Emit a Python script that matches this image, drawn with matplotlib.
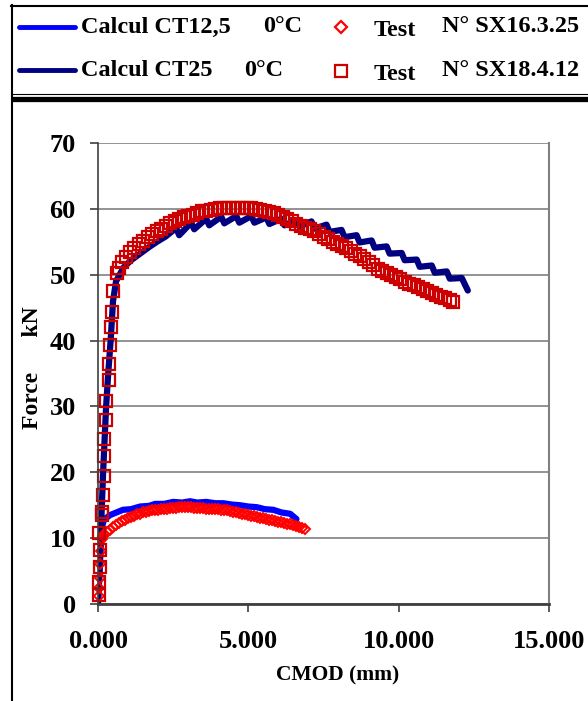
import numpy as np
import matplotlib.pyplot as plt
from matplotlib.ticker import FormatStrFormatter

plt.rcParams['font.family'] = ['Liberation Serif', 'DejaVu Serif']
plt.rcParams['font.weight'] = 'bold'

# Calcul CT25 0°C (navy line)
ct25_x = [0.0, 0.05, 0.10, 0.12, 0.17, 0.22, 0.27, 0.34, 0.42, 0.50, 0.60, 0.85, 1.10, 1.40,
          1.70, 1.96, 2.25, 2.60, 2.70, 3.10, 3.20, 3.60, 3.70, 4.10, 4.20, 4.60, 4.70, 5.10,
          5.20, 5.60, 5.70, 6.10, 6.20, 6.60, 6.70, 7.10, 7.20, 7.60, 7.70, 8.10, 8.20, 8.60,
          8.70, 9.10, 9.20, 9.60, 9.70, 10.10, 10.20, 10.60, 10.70, 11.10, 11.20, 11.60, 11.70,
          12.10, 12.30]
ct25_y = [0.0, 5.0, 11.0, 14.0, 20.0, 25.0, 30.0, 35.0, 40.0, 46.0, 49.0, 51.1, 52.2, 53.2,
          54.2, 55.0, 55.8, 57.1, 56.0, 57.9, 56.9, 58.5, 57.5, 58.8, 57.8, 58.9, 57.9, 58.9,
          57.9, 58.7, 57.7, 58.5, 57.5, 58.3, 57.3, 58.1, 57.0, 57.6, 56.5, 56.8, 55.7, 56.0,
          54.9, 55.2, 54.1, 54.3, 53.2, 53.3, 52.2, 52.3, 51.2, 51.4, 50.3, 50.5, 49.4,
          49.5, 47.6]

# Calcul CT12,5 0°C (blue line)
ct12_x = [0.0, 0.03, 0.06, 0.09, 0.12, 0.20, 0.40, 0.83, 1.10, 1.40, 1.70, 1.90, 2.20, 2.50,
          2.80, 3.06, 3.30, 3.60, 3.90, 4.17, 4.45, 4.72, 5.00, 5.28, 5.55, 5.83, 6.10, 6.39, 6.60]
ct12_y = [0.8, 3.0, 6.0, 9.0, 11.5, 12.8, 13.5, 14.3, 14.4, 14.8, 14.9, 15.2, 15.2, 15.5,
          15.4, 15.6, 15.4, 15.5, 15.3, 15.3, 15.1, 15.0, 14.8, 14.7, 14.4, 14.3, 13.9, 13.7, 12.9]

# Test N° SX16.3.25 (diamonds)
sx16_x = [0.02, 0.03, 0.05, 0.07, 0.09, 0.12, 0.15, 0.20, 0.30, 0.40, 0.50, 0.60, 0.70, 0.80,
          0.90, 1.00, 1.10, 1.20, 1.30, 1.40, 1.50, 1.60, 1.70, 1.80, 1.90, 2.00, 2.10, 2.20,
          2.30, 2.40, 2.50, 2.60, 2.70, 2.80, 2.90, 3.00, 3.10, 3.20, 3.30, 3.40, 3.50, 3.60,
          3.70, 3.80, 3.90, 4.00, 4.10, 4.20, 4.30, 4.40, 4.50, 4.60, 4.70, 4.80, 4.90, 5.00,
          5.10, 5.20, 5.30, 5.40, 5.50, 5.60, 5.70, 5.80, 5.90, 6.00, 6.10, 6.20, 6.30, 6.40,
          6.50, 6.60, 6.70, 6.80, 6.88]
sx16_y = [1.2, 2.5, 4.0, 6.0, 8.0, 9.8, 10.3, 10.6, 11.0, 11.3, 11.7, 12.0, 12.3, 12.6,
          12.8, 13.0, 13.2, 13.4, 13.6, 13.7, 13.9, 14.0, 14.1, 14.2, 14.3, 14.3, 14.4, 14.5,
          14.5, 14.6, 14.6, 14.6, 14.7, 14.7, 14.7, 14.7, 14.7, 14.6, 14.6, 14.6, 14.6, 14.5,
          14.5, 14.5, 14.4, 14.4, 14.3, 14.3, 14.2, 14.1, 14.0, 13.9, 13.8, 13.7, 13.6, 13.5,
          13.4, 13.3, 13.2, 13.1, 13.0, 12.9, 12.8, 12.7, 12.6, 12.5, 12.4, 12.3, 12.2, 12.1,
          12.0, 11.8, 11.7, 11.5, 11.4]

# Test N° SX18.4.12 (squares)
sx18_x = [0.02, 0.03, 0.05, 0.06, 0.04, 0.12, 0.12, 0.16, 0.20, 0.20, 0.20, 0.27, 0.27, 0.35,
          0.35, 0.40, 0.43, 0.45, 0.50, 0.62, 0.70, 0.80, 0.92, 1.06, 1.20, 1.35, 1.50, 1.65,
          1.80, 1.95, 2.10, 2.25, 2.40, 2.55, 2.70, 2.85, 3.00, 3.15, 3.30, 3.45, 3.60, 3.75,
          3.90, 4.05, 4.20, 4.35, 4.50, 4.65, 4.80, 4.95, 5.10, 5.25, 5.40, 5.55, 5.70, 5.85,
          6.00, 6.15, 6.30, 6.45, 6.60, 6.75, 6.90, 7.05, 7.20, 7.35, 7.50, 7.65, 7.80, 7.95,
          8.10, 8.25, 8.40, 8.55, 8.70, 8.85, 9.00, 9.15, 9.30, 9.45, 9.60, 9.75, 9.90, 10.05,
          10.20, 10.35, 10.50, 10.65, 10.80, 10.95, 11.10, 11.25, 11.40, 11.55, 11.70, 11.80]
sx18_y = [1.4, 3.3, 5.6, 8.2, 10.8, 13.5, 14.0, 16.6, 19.4, 22.4, 25.0, 28.0, 30.8, 34.0,
          36.5, 39.3, 42.0, 44.4, 47.6, 50.2, 51.0, 51.9, 52.7, 53.4, 54.0, 54.6, 55.1, 55.7,
          56.2, 56.6, 57.0, 57.4, 57.8, 58.1, 58.4, 58.7, 58.9, 59.1, 59.4, 59.6, 59.7, 59.9,
          60.0, 60.1, 60.2, 60.2, 60.2, 60.2, 60.2, 60.1, 60.1, 60.0, 59.8, 59.7, 59.5, 59.3,
          59.0, 58.7, 58.4, 58.1, 57.7, 57.4, 57.1, 56.9, 56.6, 56.2, 55.8, 55.4, 55.0, 54.6,
          54.3, 54.0, 53.6, 53.2, 52.8, 52.4, 51.9, 51.4, 50.9, 50.6, 50.3, 49.9, 49.6, 49.3,
          48.9, 48.6, 48.4, 48.1, 47.8, 47.5, 47.2, 46.9, 46.6, 46.4, 46.1, 45.9]

calc_labels = ['Calcul CT12,5', 'Calcul CT25']
calc_temps = ['0°C', '0°C']
test_labels = ['N° SX16.3.25', 'N° SX18.4.12']

blue = '#0000FF'
navy = '#000080'
red_d = '#FF0000'
red_s = '#CC0000'

fig = plt.figure(figsize=(5.88, 7.01), dpi=100)

# frame + legend drawn in pixel coordinates
bg = fig.add_axes([0, 0, 1, 1])
bg.set_xlim(0, 588)
bg.set_ylim(701, 0)
bg.axis('off')
bg.plot([11.5, 11.5], [5, 701], color='black', lw=1.5)
bg.plot([11, 588], [5.5, 5.5], color='black', lw=1.5)
bg.plot([11, 588], [94, 94], color='black', lw=0.8)
bg.plot([15, 588], [98.5, 98.5], color='black', lw=3.8)

bg.plot([19, 75], [27, 27], color=blue, lw=3.5, solid_capstyle='round')
bg.plot([19, 75], [70, 70], color=navy, lw=3.5, solid_capstyle='round')
bg.plot([341], [27], marker='D', ms=6, mfc='none', mec=red_d, mew=1.6)
bg.plot([341], [71], marker='s', ms=8, mfc='none', mec=red_s, mew=1.6)
txt = dict(fontsize=17.5, fontweight='bold', va='center', ha='left')
bg.text(81, 27, calc_labels[0], **txt)
bg.text(263, 27, calc_temps[0], **txt)
bg.text(81, 70, calc_labels[1], **txt)
bg.text(244, 70, calc_temps[1], **txt)
bg.text(374, 30, 'Test', **txt)
bg.text(374, 74, 'Test', **txt)
bg.text(442, 27, test_labels[0], **txt)
bg.text(442, 71, test_labels[1], **txt)

ax = fig.add_axes([98 / 588, 97 / 701, 451 / 588, 461 / 701])
ax.plot(ct12_x, ct12_y, color=blue, lw=4.5, solid_joinstyle='round', solid_capstyle='round')
ax.plot(ct25_x, ct25_y, color=navy, lw=4.5, solid_joinstyle='round', solid_capstyle='round')
ax.plot(sx16_x, sx16_y, ls='none', marker='D', ms=5.5, mfc='none', mec=red_d, mew=1.4,
        clip_on=False)
ax.plot(sx18_x, sx18_y, ls='none', marker='s', ms=8, mfc='none', mec=red_s, mew=1.6,
        clip_on=False)

ax.set_xlim(0, 15)
ax.set_ylim(0, 70)
ax.set_xticks([0, 5, 10, 15])
ax.set_yticks(range(0, 71, 10))
ax.xaxis.set_major_formatter(FormatStrFormatter('%.3f'))
ax.grid(axis='y', color='#808080', lw=1.2)
ax.set_axisbelow(True)
ax.spines['top'].set_visible(False)
ax.spines['right'].set_color('#808080')
ax.spines['right'].set_linewidth(1.5)
ax.spines['left'].set_color('#404040')
ax.spines['bottom'].set_color('#404040')
ax.spines['left'].set_linewidth(1.2)
ax.spines['bottom'].set_linewidth(2)
ax.tick_params(direction='out', length=6, width=1.2, color='#404040', labelsize=19)
ax.tick_params(axis='x', pad=13)
ax.tick_params(axis='y', pad=10)

fig.text(338 / 588, 1 - 675 / 701, 'CMOD (mm)', fontsize=15.5, fontweight='bold',
         ha='center', va='center')
fig.text(33 / 588, 1 - 368 / 701, 'Force      kN', fontsize=17, fontweight='bold',
         rotation=90, ha='center', va='center')

fig.savefig('out.png', dpi=100)
